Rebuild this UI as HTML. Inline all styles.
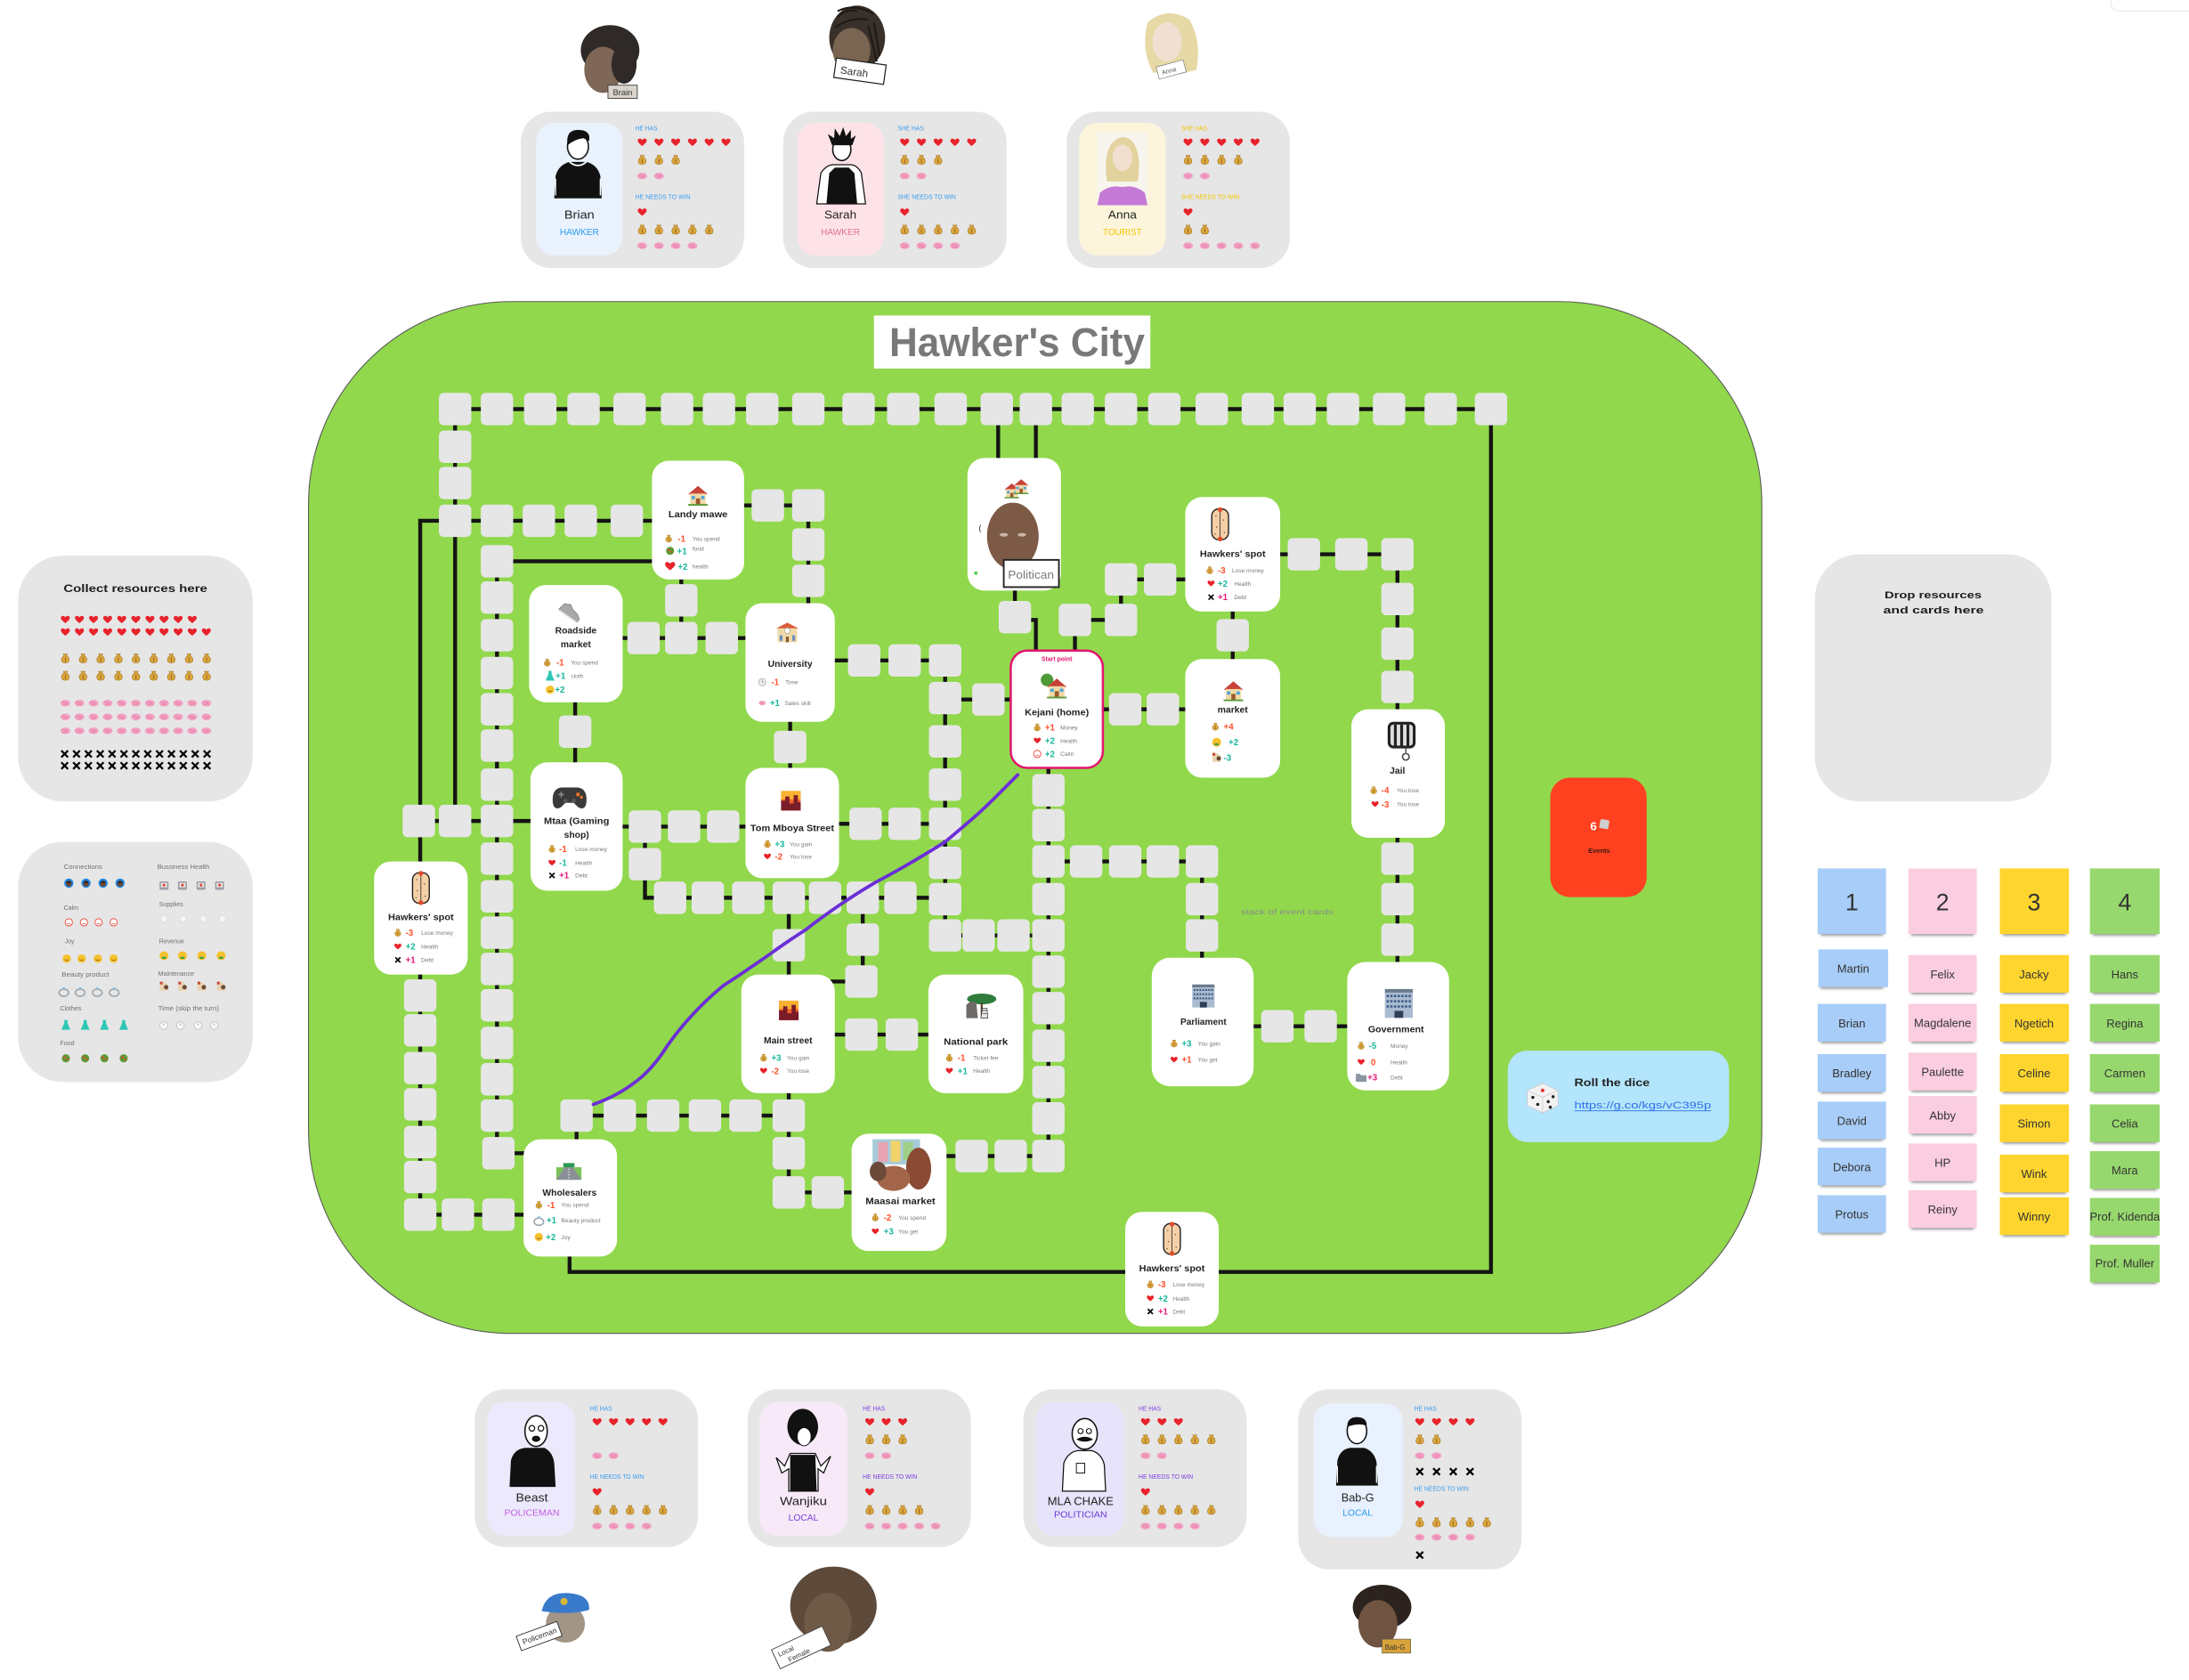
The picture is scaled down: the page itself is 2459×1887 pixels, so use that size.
<!DOCTYPE html>
<html><head><meta charset="utf-8"><title>Hawker's City</title>
<style>
html,body{margin:0;padding:0;background:#fff;width:2459px;height:1887px;overflow:hidden}
svg{display:block}
text{font-family:"Liberation Sans",Arial,sans-serif}
.ln{stroke:#141414;stroke-width:2.8;fill:none;stroke-linecap:square}
.cd{fill:#fff}
.ti{font-size:6.6px;font-weight:bold;fill:#222;text-anchor:middle}
.n{font-size:6.2px;font-weight:bold}
.r{fill:#ff4d2a}.g{fill:#16b79a}.p{fill:#e5177b}
.l{font-size:4.2px;fill:#7a7a7a}
.lb{font-size:4.5px;fill:#707070}
.hl{font-size:4.4px}
.nm{font-size:8.5px;fill:#222;text-anchor:middle}
.rl{font-size:6.4px;text-anchor:middle}
.sn{font-size:8.3px;fill:#333;text-anchor:middle}
.big{font-size:17px;fill:#333;text-anchor:middle}
</style></head>
<body>
<svg xmlns="http://www.w3.org/2000/svg" width="2459" height="1887" viewBox="0 0 1568 1203.26">
<defs>
<path id="h0" d="M0,4 C-2,2.2 -5,0.2 -5,-2 C-5,-4.6 -1.8,-5.2 0,-2.6 C1.8,-5.2 5,-4.6 5,-2 C5,0.2 2,2.2 0,4Z" fill="#e8232b"/>
<g id="m0"><path d="M-1.8,-4 L1.8,-4 L1,-2.3 C4.2,-1.2 4.6,4 0,4 C-4.6,4 -4.2,-1.2 -1,-2.3Z" fill="#dba73f" stroke="#a8741c" stroke-width=".5"/><path d="M0,-1 V3" stroke="#8a5d12" stroke-width=".7"/></g>
<g id="b0"><ellipse rx="5" ry="3.4" fill="#f3a0c2"/><path d="M-3.5,-.5 Q-2,-2 -.5,-.6 Q1,.8 2.5,-.8 M-2.5,1.5 Q0,.5 2.8,1.6" stroke="#e07aa5" stroke-width=".6" fill="none"/></g>
<path id="x0" d="M-3,-3 L3,3 M3,-3 L-3,3" stroke="#000" stroke-width="1.8"/>
<g id="H"><use href="#h0" transform="scale(.64)"/></g>
<g id="M"><use href="#m0" transform="scale(.8)"/></g>
<g id="B"><use href="#b0" transform="scale(.7)"/></g>
<g id="X"><use href="#x0" transform="scale(.8)"/></g>
<g id="h"><use href="#h0" transform="scale(.5)"/></g>
<g id="m"><use href="#m0" transform="scale(.62)"/></g>
<g id="x"><use href="#x0" transform="scale(.6)"/></g>
<g id="b"><use href="#b0" transform="scale(.5)"/></g>
<rect id="T" x="-11.6" y="-11.6" width="23.2" height="23.2" rx="3.6" fill="#e6e6e6"/>
<g id="house"><path d="M-7,-1 L0,-7 L7,-1Z" fill="#c8423a"/><rect x="-5.5" y="-1.5" width="11" height="8" fill="#f1d9a8"/><rect x="-1.5" y="2" width="3" height="4.5" fill="#9a5a2e"/><rect x="2.2" y="0.3" width="2.4" height="2.2" fill="#4aa3df"/><rect x="-4.6" y="0.3" width="2.4" height="2.2" fill="#4aa3df"/><rect x="-7" y="6" width="14" height="1.2" fill="#5a9a3a"/></g>
<g id="bur"><rect x="-6" y="-11" width="12" height="22" rx="5" fill="#f5cfa6" stroke="#222" stroke-width=".9"/><path d="M0,-10 V10" stroke="#222" stroke-width=".5"/><circle cx="0" cy="-10.5" r="1.7" fill="#e04a2a"/><circle cx="0" cy="10.5" r="1.7" fill="#e04a2a"/><g fill="#333"><circle cx="-3" cy="-6" r=".4"/><circle cx="2.5" cy="-3" r=".4"/><circle cx="-2.5" cy="2" r=".4"/><circle cx="3" cy="6" r=".4"/><circle cx="-3.5" cy="7" r=".4"/></g></g>
<g id="city"><rect x="-7" y="-7" width="14" height="14" fill="#f0642c"/><rect x="-7" y="-7" width="14" height="6" fill="#f9b233"/><path d="M-7,7 V0 H-4 V-3 H-1 V2 H2 V-4 H5 V1 H7 V7Z" fill="#7a1c2a"/></g>
<g id="bldg"><rect x="-8" y="-7" width="16" height="15" fill="#a9bbd0"/><rect x="-8" y="-8.5" width="16" height="2" fill="#6b7a8c"/><path d="M-7,-4.5H7M-7,-1.5H7M-7,1.5H7" stroke="#3c5a80" stroke-width="1.3" stroke-dasharray="1.3 .8"/><rect x="-2.5" y="4" width="5" height="4" fill="#2f3f55"/></g>
<g id="food"><circle r="2.9" fill="#5c9a33"/><circle cx="-1" cy="-.6" r=".8" fill="#e04a3a"/><circle cx="1.1" cy=".8" r=".7" fill="#e04a3a"/></g>
<path id="cloth" d="M-1,-3.5 L1,-3.5 L1.2,-1 L3.2,3.5 L-3.2,3.5 L-1.2,-1Z" fill="#2cc7b4"/>
<g id="smile"><circle r="3" fill="#f6c12e"/><path d="M-1.5,.6 Q0,2 1.5,.6" stroke="#8a5a12" stroke-width=".5" fill="none"/></g>
<g id="clock"><circle r="2.6" fill="#eee" stroke="#aaa" stroke-width=".5"/><path d="M0,-1.5 V0 H1" stroke="#777" stroke-width=".4" fill="none"/></g>
<g id="calm"><circle r="2.6" fill="#fff" stroke="#e84a3a" stroke-width=".6"/><path d="M-1.2,1.3 Q0,.3 1.2,1.3" stroke="#e84a3a" stroke-width=".5" fill="none"/></g>
<g id="ring"><ellipse cx="0" cy="1" rx="3.4" ry="2.6" fill="none" stroke="#9aa4ad" stroke-width="1"/><path d="M-1.2,-2.8 L1.2,-2.8 L0,-1.2Z" fill="#7fc8f0"/></g>
<g id="mface"><circle r="3.2" fill="#f6c12e"/><rect x="-1.5" y=".8" width="3" height="1.4" fill="#3aa14a"/></g>
<g id="maint"><path d="M-3,3 V-1 L0,-3.5 L3,-1 V3Z" fill="#e8d3b0"/><circle cx="1.5" cy="0.5" r="1.6" fill="#6b4a3a"/><rect x="-3" y="-3.5" width="2" height="2" fill="#c84a3a"/></g>
<g id="fold"><path d="M-3.8,-2.5 L-1,-2.5 L0,-1.5 L3.8,-1.5 L3.8,3.2 L-3.8,3.2Z" fill="#8a96a2"/></g>
<g id="conn"><circle r="3.3" fill="#1e88e5"/><circle cy=".3" r="2.1" fill="#6b4430"/><path d="M-2.1,-.3 Q0,-2.8 2.1,-.3" fill="#222"/></g>
<g id="bh"><rect x="-3.2" y="-3" width="6.4" height="6" rx=".8" fill="#9aa0a6"/><rect x="-2.2" y="-2" width="4.4" height="3.2" fill="#e8e8e8"/><path d="M0,-1.6 V.8 M-1.2,-.4 H1.2" stroke="#e53935" stroke-width=".8"/></g>
<circle id="sup" r="2.2" fill="#f6f6f6" stroke="#d8d8d8" stroke-width=".4"/>
<g id="tim"><circle r="2.8" fill="#f6f6f6" stroke="#bbb" stroke-width=".5"/><path d="M0,-1.6 V0" stroke="#888" stroke-width=".4"/></g>
<filter id="sh" x="-20%" y="-100%" width="140%" height="300%"><feGaussianBlur stdDeviation="1"/></filter>
</defs>

<!-- top-right fragment -->
<rect x="1512" y="-14" width="80" height="22" rx="6" fill="#fff" stroke="#ececec" stroke-width=".8"/>

<!-- ===== TOP PORTRAITS ===== -->
<g>
<ellipse cx="437" cy="36" rx="21" ry="18" fill="#2f2a27"/>
<ellipse cx="432" cy="50" rx="13.5" ry="16.5" fill="#7e6757"/>
<ellipse cx="447" cy="46" rx="9" ry="14" fill="#2f2a27"/>
<rect x="435.5" y="61" width="21" height="9.5" fill="#d9d3cc" stroke="#444" stroke-width=".6"/>
<text x="446" y="68.3" font-size="6" text-anchor="middle" fill="#333">Brain</text>
</g>
<g>
<ellipse cx="614" cy="27" rx="20" ry="23" fill="#3a302a"/>
<path d="M600,12 Q606,6 614,8 M598,20 Q608,12 622,14 M600,8 Q612,2 626,10 M626,16 L630,40 M622,18 L628,44" stroke="#1f1a17" stroke-width="1.4" fill="none"/>
<ellipse cx="610" cy="36" rx="13.5" ry="16" fill="#7a6452"/>
<g transform="rotate(8 616 51)"><rect x="598" y="44" width="36" height="14" fill="#fff" stroke="#222" stroke-width=".8"/><text x="602" y="54.5" font-size="7.5" fill="#333">Sarah</text></g>
</g>
<g>
<path d="M822,16 Q836,4 852,14 Q861,30 857,50 L846,53 L826,52 Q817,36 822,16Z" fill="#e6d9a6"/>
<ellipse cx="836" cy="30" rx="10.5" ry="14" fill="#f1e0d2"/>
<g transform="rotate(-15 840 50)"><rect x="829" y="45" width="20" height="9" fill="#fff" stroke="#888" stroke-width=".5"/><text x="832" y="51.5" font-size="4.5" fill="#555">Anna</text></g>
</g>

<!-- ===== TOP PLAYER CARDS ===== -->
<rect x="373" y="80" width="160" height="112" rx="22" fill="#e6e6e6"/>
<rect x="384" y="88" width="62" height="95" rx="13" fill="#e9f2fd"/>
<path d="M397,142 L398,126 Q400,118 408,116 L420,116 Q428,118 430,126 L431,142Z" fill="#111"/>
<path d="M398,128 L398,140 M430,128 L430,140" stroke="#fff" stroke-width=".8"/>
<path d="M408,116 Q414,121 420,116" stroke="#fff" stroke-width="1.2" fill="none"/>
<ellipse cx="414" cy="105" rx="7.5" ry="9" fill="#fff" stroke="#111" stroke-width="1"/>
<path d="M406.5,104 Q405,93 414,93 Q423.5,93 422,101 L418,99 Q412,99.5 406.5,104Z" fill="#111"/>
<text class="nm" x="415" y="156.5" textLength="21.6" lengthAdjust="spacingAndGlyphs">Brian</text>
<text class="rl" x="415" y="168.5" fill="#2a9af0" textLength="28" lengthAdjust="spacingAndGlyphs">HAWKER</text>
<text class="hl" x="455" y="93.5" fill="#3a9cf0" textLength="16" lengthAdjust="spacingAndGlyphs">HE HAS</text>
<text class="hl" x="455" y="142.5" fill="#3a9cf0" textLength="39.5" lengthAdjust="spacingAndGlyphs">HE NEEDS TO WIN</text>
<use href="#H" x="460" y="102"/><use href="#H" x="472" y="102"/><use href="#H" x="484" y="102"/><use href="#H" x="496" y="102"/><use href="#H" x="508" y="102"/><use href="#H" x="520" y="102"/>
<use href="#M" x="460" y="114.5"/><use href="#M" x="472" y="114.5"/><use href="#M" x="484" y="114.5"/>
<use href="#B" x="460" y="126"/><use href="#B" x="472" y="126"/>
<use href="#H" x="460" y="152"/>
<use href="#M" x="460" y="164.5"/><use href="#M" x="472" y="164.5"/><use href="#M" x="484" y="164.5"/><use href="#M" x="496" y="164.5"/><use href="#M" x="508" y="164.5"/>
<use href="#B" x="460" y="176"/><use href="#B" x="472" y="176"/><use href="#B" x="484" y="176"/><use href="#B" x="496" y="176"/>

<rect x="561" y="80" width="160" height="112" rx="22" fill="#e6e6e6"/>
<rect x="571" y="88" width="62" height="95" rx="13" fill="#fde3e7"/>
<path d="M585,146 L588,124 Q592,118 597,118 L609,118 Q614,118 617,124 L620,146Z" fill="#fff" stroke="#111" stroke-width=".8"/>
<path d="M592,146 L594,124 L598,120 L608,120 L612,124 L614,146Z" fill="#111"/>
<ellipse cx="603" cy="107" rx="6.5" ry="8" fill="#fff" stroke="#111" stroke-width="1"/>
<path d="M596,104 L593,96 L597.5,99 L598,92 L601.5,97.5 L604,91 L606,97.5 L609.5,93 L609.5,99.5 L613,97 L610.5,104Z" fill="#111"/>
<text class="nm" x="602" y="156.5" textLength="23" lengthAdjust="spacingAndGlyphs">Sarah</text>
<text class="rl" x="602" y="168.5" fill="#e06d9a" textLength="28" lengthAdjust="spacingAndGlyphs">HAWKER</text>
<text class="hl" x="643" y="93.5" fill="#3a9cf0" textLength="18.7" lengthAdjust="spacingAndGlyphs">SHE HAS</text>
<text class="hl" x="643" y="142.5" fill="#3a9cf0" textLength="41.7" lengthAdjust="spacingAndGlyphs">SHE NEEDS TO WIN</text>
<use href="#H" x="648" y="102"/><use href="#H" x="660" y="102"/><use href="#H" x="672" y="102"/><use href="#H" x="684" y="102"/><use href="#H" x="696" y="102"/>
<use href="#M" x="648" y="114.5"/><use href="#M" x="660" y="114.5"/><use href="#M" x="672" y="114.5"/>
<use href="#B" x="648" y="126"/><use href="#B" x="660" y="126"/>
<use href="#H" x="648" y="152"/>
<use href="#M" x="648" y="164.5"/><use href="#M" x="660" y="164.5"/><use href="#M" x="672" y="164.5"/><use href="#M" x="684" y="164.5"/><use href="#M" x="696" y="164.5"/>
<use href="#B" x="648" y="176"/><use href="#B" x="660" y="176"/><use href="#B" x="672" y="176"/><use href="#B" x="684" y="176"/>

<rect x="764" y="80" width="160" height="112" rx="22" fill="#e6e6e6"/>
<rect x="773" y="88" width="62" height="95" rx="13" fill="#fcf5dc"/>
<rect x="786" y="95" width="36" height="52" fill="#f8f5ef"/>
<path d="M793,130 Q790,110 797,102 Q804,95 811,101 Q818,110 815,130Z" fill="#e2d39e"/>
<ellipse cx="804" cy="113" rx="7" ry="9.5" fill="#f1dfd0"/>
<path d="M786,147 L788,138 Q795,132 804,134 Q813,132 820,138 L822,147Z" fill="#c57ad6"/>
<text class="nm" x="804" y="156.5" textLength="20.5" lengthAdjust="spacingAndGlyphs">Anna</text>
<text class="rl" x="804" y="168.5" fill="#f5c400" textLength="28" lengthAdjust="spacingAndGlyphs">TOURIST</text>
<text class="hl" x="846" y="93.5" fill="#f5c400" textLength="18.7" lengthAdjust="spacingAndGlyphs">SHE HAS</text>
<text class="hl" x="846" y="142.5" fill="#f5c400" textLength="41.7" lengthAdjust="spacingAndGlyphs">SHE NEEDS TO WIN</text>
<use href="#H" x="851" y="102"/><use href="#H" x="863" y="102"/><use href="#H" x="875" y="102"/><use href="#H" x="887" y="102"/><use href="#H" x="899" y="102"/>
<use href="#M" x="851" y="114.5"/><use href="#M" x="863" y="114.5"/><use href="#M" x="875" y="114.5"/><use href="#M" x="887" y="114.5"/>
<use href="#B" x="851" y="126"/><use href="#B" x="863" y="126"/>
<use href="#H" x="851" y="152"/>
<use href="#M" x="851" y="164.5"/><use href="#M" x="863" y="164.5"/>
<use href="#B" x="851" y="176"/><use href="#B" x="863" y="176"/><use href="#B" x="875" y="176"/><use href="#B" x="887" y="176"/><use href="#B" x="899" y="176"/>

<!-- ===== LEFT PANELS ===== -->
<rect x="13" y="398" width="168" height="176" rx="32" fill="#e6e6e6"/>
<text x="97" y="424" font-size="7.8" font-weight="bold" fill="#1c1c1c" text-anchor="middle" textLength="103" lengthAdjust="spacingAndGlyphs">Collect resources here</text>
<g>
<use href="#H" x="46.8" y="443.8"/><use href="#H" x="56.9" y="443.8"/><use href="#H" x="67" y="443.8"/><use href="#H" x="77.1" y="443.8"/><use href="#H" x="87.2" y="443.8"/><use href="#H" x="97.3" y="443.8"/><use href="#H" x="107.4" y="443.8"/><use href="#H" x="117.5" y="443.8"/><use href="#H" x="127.6" y="443.8"/><use href="#H" x="137.7" y="443.8"/>
<use href="#H" x="46.8" y="452.8"/><use href="#H" x="56.9" y="452.8"/><use href="#H" x="67" y="452.8"/><use href="#H" x="77.1" y="452.8"/><use href="#H" x="87.2" y="452.8"/><use href="#H" x="97.3" y="452.8"/><use href="#H" x="107.4" y="452.8"/><use href="#H" x="117.5" y="452.8"/><use href="#H" x="127.6" y="452.8"/><use href="#H" x="137.7" y="452.8"/><use href="#H" x="147.8" y="452.8"/>
<use href="#M" x="46.8" y="471.6"/><use href="#M" x="59.5" y="471.6"/><use href="#M" x="72.1" y="471.6"/><use href="#M" x="84.8" y="471.6"/><use href="#M" x="97.4" y="471.6"/><use href="#M" x="110.1" y="471.6"/><use href="#M" x="122.7" y="471.6"/><use href="#M" x="135.4" y="471.6"/><use href="#M" x="148" y="471.6"/>
<use href="#M" x="46.8" y="484"/><use href="#M" x="59.5" y="484"/><use href="#M" x="72.1" y="484"/><use href="#M" x="84.8" y="484"/><use href="#M" x="97.4" y="484"/><use href="#M" x="110.1" y="484"/><use href="#M" x="122.7" y="484"/><use href="#M" x="135.4" y="484"/><use href="#M" x="148" y="484"/>
<use href="#B" x="46.8" y="503.6"/><use href="#B" x="56.9" y="503.6"/><use href="#B" x="67" y="503.6"/><use href="#B" x="77.1" y="503.6"/><use href="#B" x="87.2" y="503.6"/><use href="#B" x="97.3" y="503.6"/><use href="#B" x="107.4" y="503.6"/><use href="#B" x="117.5" y="503.6"/><use href="#B" x="127.6" y="503.6"/><use href="#B" x="137.7" y="503.6"/><use href="#B" x="147.8" y="503.6"/>
<use href="#B" x="46.8" y="513.5"/><use href="#B" x="56.9" y="513.5"/><use href="#B" x="67" y="513.5"/><use href="#B" x="77.1" y="513.5"/><use href="#B" x="87.2" y="513.5"/><use href="#B" x="97.3" y="513.5"/><use href="#B" x="107.4" y="513.5"/><use href="#B" x="117.5" y="513.5"/><use href="#B" x="127.6" y="513.5"/><use href="#B" x="137.7" y="513.5"/><use href="#B" x="147.8" y="513.5"/>
<use href="#B" x="46.8" y="523.4"/><use href="#B" x="56.9" y="523.4"/><use href="#B" x="67" y="523.4"/><use href="#B" x="77.1" y="523.4"/><use href="#B" x="87.2" y="523.4"/><use href="#B" x="97.3" y="523.4"/><use href="#B" x="107.4" y="523.4"/><use href="#B" x="117.5" y="523.4"/><use href="#B" x="127.6" y="523.4"/><use href="#B" x="137.7" y="523.4"/><use href="#B" x="147.8" y="523.4"/>
<use href="#X" x="46.3" y="540"/><use href="#X" x="54.8" y="540"/><use href="#X" x="63.3" y="540"/><use href="#X" x="71.8" y="540"/><use href="#X" x="80.3" y="540"/><use href="#X" x="88.8" y="540"/><use href="#X" x="97.3" y="540"/><use href="#X" x="105.8" y="540"/><use href="#X" x="114.3" y="540"/><use href="#X" x="122.8" y="540"/><use href="#X" x="131.3" y="540"/><use href="#X" x="139.8" y="540"/><use href="#X" x="148.3" y="540"/>
<use href="#X" x="46.3" y="548.4"/><use href="#X" x="54.8" y="548.4"/><use href="#X" x="63.3" y="548.4"/><use href="#X" x="71.8" y="548.4"/><use href="#X" x="80.3" y="548.4"/><use href="#X" x="88.8" y="548.4"/><use href="#X" x="97.3" y="548.4"/><use href="#X" x="105.8" y="548.4"/><use href="#X" x="114.3" y="548.4"/><use href="#X" x="122.8" y="548.4"/><use href="#X" x="131.3" y="548.4"/><use href="#X" x="139.8" y="548.4"/><use href="#X" x="148.3" y="548.4"/>
</g>

<rect x="13" y="603" width="168" height="172" rx="32" fill="#e6e6e6"/>
<text class="lb" x="45.7" y="622.3" textLength="27.6" lengthAdjust="spacingAndGlyphs">Connections</text>
<use href="#conn" x="49.3" y="632.5"/><use href="#conn" x="61.6" y="632.5"/><use href="#conn" x="73.8" y="632.5"/><use href="#conn" x="86" y="632.5"/>
<text class="lb" x="45.7" y="651.7">Calm</text>
<use href="#calm" x="49.3" y="660.6"/><use href="#calm" x="60.1" y="660.6"/><use href="#calm" x="70.6" y="660.6"/><use href="#calm" x="81.4" y="660.6"/>
<text class="lb" x="46.3" y="675.5">Joy</text>
<use href="#smile" x="47.8" y="686.6"/><use href="#smile" x="58.5" y="686.6"/><use href="#smile" x="70.1" y="686.6"/><use href="#smile" x="81.4" y="686.6"/>
<text class="lb" x="44.2" y="699.5" textLength="34" lengthAdjust="spacingAndGlyphs">Beauty product</text>
<use href="#ring" x="45.7" y="710"/><use href="#ring" x="57.4" y="710"/><use href="#ring" x="69.7" y="710"/><use href="#ring" x="81.8" y="710"/>
<text class="lb" x="43" y="723.8">Clothes</text>
<use href="#cloth" x="47.2" y="734"/><use href="#cloth" x="61" y="734"/><use href="#cloth" x="74.8" y="734"/><use href="#cloth" x="88.6" y="734"/>
<text class="lb" x="43" y="748.5">Food</text>
<use href="#food" x="47.2" y="758"/><use href="#food" x="61" y="758"/><use href="#food" x="74.8" y="758"/><use href="#food" x="88.6" y="758"/>
<text class="lb" x="112.7" y="622.3" textLength="37.4" lengthAdjust="spacingAndGlyphs">Bussiness Health</text>
<use href="#bh" x="117.5" y="634.3"/><use href="#bh" x="130.7" y="634.3"/><use href="#bh" x="144" y="634.3"/><use href="#bh" x="157.3" y="634.3"/>
<text class="lb" x="114" y="649">Supplies</text>
<use href="#sup" x="117.3" y="658"/><use href="#sup" x="131.2" y="658"/><use href="#sup" x="145.6" y="658"/><use href="#sup" x="159.4" y="658"/>
<text class="lb" x="114" y="675.5">Revenue</text>
<use href="#mface" x="117.5" y="684.5"/><use href="#mface" x="130.7" y="684.5"/><use href="#mface" x="144.5" y="684.5"/><use href="#mface" x="158.4" y="684.5"/>
<text class="lb" x="113.3" y="699">Maintenance</text>
<use href="#maint" x="117.5" y="706.6"/><use href="#maint" x="130.7" y="706.6"/><use href="#maint" x="144.5" y="706.6"/><use href="#maint" x="158.4" y="706.6"/>
<text class="lb" x="113.3" y="723.8" textLength="43.6" lengthAdjust="spacingAndGlyphs">Time (skip the turn)</text>
<use href="#tim" x="117.3" y="734.5"/><use href="#tim" x="129.2" y="734.5"/><use href="#tim" x="141.8" y="734.5"/><use href="#tim" x="153.5" y="734.5"/>

<!-- ===== BOARD ===== -->
<rect x="221" y="216" width="1041" height="739" rx="145" fill="#91d84c" stroke="#5a5a5a" stroke-width=".7"/>
<rect x="626" y="226" width="198" height="38" fill="#fff"/>
<text x="728.5" y="255" font-size="29" font-weight="bold" fill="#797979" text-anchor="middle" textLength="183" lengthAdjust="spacingAndGlyphs">Hawker's City</text>
<text x="889" y="655" font-size="5.3" fill="#8a8a8a" textLength="66" lengthAdjust="spacingAndGlyphs">stack of event cards</text>

<!-- connectors -->
<path class="ln" d="M326,293 H1068 V911 H408 V895
M326,293 V588
M301,373 H467
M301,373 V870 H380
M301,588 H380
M356,402 H467
M356,402 V826 H378
M533,362 H579 V435
M488,412 V457
M446,457 H536
M412,500 V548
M566,515 V552
M598,473 H677 V670 H751
M677,501 H726
M446,592 H536
M600,590 H677
M462,592 V643 H677
M565,643 V700
M618,643 V703 H596
M596,741 H667
M565,781 V854 H612
M413,799 H565
M413,799 V818
M751,548 V828 H676
M751,617 H861 V688
M896,735 H967
M715,293 V330
M742,293 V330
M727,420 V444 H742 V468
M770,444 V468
M770,444 H803 V415 H851
M883,436 V474
M788,508 H851
M915,397 H1001 V510
M1001,598 V691"/>

<!-- tiles -->
<g>
<use href="#T" x="326" y="293"/><use href="#T" x="356" y="293"/><use href="#T" x="387" y="293"/><use href="#T" x="418" y="293"/><use href="#T" x="451" y="293"/><use href="#T" x="485" y="293"/><use href="#T" x="515" y="293"/><use href="#T" x="546" y="293"/><use href="#T" x="579" y="293"/><use href="#T" x="615" y="293"/><use href="#T" x="647" y="293"/><use href="#T" x="681" y="293"/><use href="#T" x="714" y="293"/><use href="#T" x="742" y="293"/><use href="#T" x="772" y="293"/><use href="#T" x="803" y="293"/><use href="#T" x="834" y="293"/><use href="#T" x="868" y="293"/><use href="#T" x="901" y="293"/><use href="#T" x="931" y="293"/><use href="#T" x="962" y="293"/><use href="#T" x="995" y="293"/><use href="#T" x="1032" y="293"/><use href="#T" x="1068" y="293"/>
<use href="#T" x="326" y="320"/><use href="#T" x="326" y="346"/><use href="#T" x="326" y="373"/>
<use href="#T" x="356" y="373"/><use href="#T" x="386" y="373"/><use href="#T" x="416" y="373"/><use href="#T" x="449" y="373"/>
<use href="#T" x="300" y="588"/><use href="#T" x="326" y="588"/>
<use href="#T" x="356" y="402"/><use href="#T" x="356" y="428"/><use href="#T" x="356" y="455"/><use href="#T" x="356" y="482"/><use href="#T" x="356" y="508"/><use href="#T" x="356" y="534"/><use href="#T" x="356" y="562"/><use href="#T" x="356" y="588"/><use href="#T" x="356" y="615"/><use href="#T" x="356" y="642"/><use href="#T" x="356" y="668"/><use href="#T" x="356" y="694"/><use href="#T" x="356" y="720"/><use href="#T" x="356" y="747"/><use href="#T" x="356" y="773"/><use href="#T" x="356" y="799"/><use href="#T" x="357" y="826"/>
<use href="#T" x="301" y="713"/><use href="#T" x="301" y="738"/><use href="#T" x="301" y="765"/><use href="#T" x="301" y="791"/><use href="#T" x="301" y="818"/><use href="#T" x="301" y="843"/><use href="#T" x="301" y="870"/>
<use href="#T" x="328" y="870"/><use href="#T" x="357" y="870"/>
<use href="#T" x="550" y="362"/><use href="#T" x="579" y="362"/><use href="#T" x="579" y="390"/><use href="#T" x="579" y="416"/>
<use href="#T" x="488" y="430"/><use href="#T" x="461" y="457"/><use href="#T" x="488" y="457"/><use href="#T" x="517" y="457"/>
<use href="#T" x="412" y="524"/>
<use href="#T" x="566" y="535"/>
<use href="#T" x="619" y="473"/><use href="#T" x="648" y="473"/><use href="#T" x="677" y="473"/>
<use href="#T" x="677" y="500"/><use href="#T" x="677" y="531"/><use href="#T" x="677" y="562"/><use href="#T" x="677" y="590"/><use href="#T" x="677" y="618"/><use href="#T" x="677" y="644"/><use href="#T" x="677" y="670"/>
<use href="#T" x="708" y="501"/>
<use href="#T" x="462" y="592"/><use href="#T" x="490" y="592"/><use href="#T" x="518" y="592"/>
<use href="#T" x="462" y="619"/>
<use href="#T" x="480" y="643"/><use href="#T" x="507" y="643"/><use href="#T" x="536" y="643"/><use href="#T" x="565" y="643"/><use href="#T" x="591" y="643"/><use href="#T" x="618" y="643"/><use href="#T" x="645" y="643"/>
<use href="#T" x="565" y="677"/>
<use href="#T" x="618" y="673"/><use href="#T" x="617" y="703"/>
<use href="#T" x="617" y="741"/><use href="#T" x="646" y="741"/>
<use href="#T" x="620" y="590"/><use href="#T" x="648" y="590"/>
<use href="#T" x="701" y="670"/><use href="#T" x="726" y="670"/>
<use href="#T" x="751" y="566"/><use href="#T" x="751" y="591"/><use href="#T" x="751" y="617"/><use href="#T" x="751" y="644"/><use href="#T" x="751" y="670"/><use href="#T" x="751" y="696"/><use href="#T" x="751" y="722"/><use href="#T" x="751" y="749"/><use href="#T" x="751" y="775"/><use href="#T" x="751" y="801"/><use href="#T" x="751" y="828"/>
<use href="#T" x="778" y="617"/><use href="#T" x="806" y="617"/><use href="#T" x="833" y="617"/><use href="#T" x="861" y="617"/>
<use href="#T" x="861" y="644"/><use href="#T" x="861" y="670"/>
<use href="#T" x="696" y="828"/><use href="#T" x="724" y="828"/>
<use href="#T" x="413" y="799"/><use href="#T" x="444" y="799"/><use href="#T" x="475" y="799"/><use href="#T" x="505" y="799"/><use href="#T" x="534" y="799"/><use href="#T" x="565" y="799"/>
<use href="#T" x="565" y="826"/><use href="#T" x="565" y="854"/><use href="#T" x="593" y="854"/>
<use href="#T" x="727" y="442"/><use href="#T" x="770" y="444"/><use href="#T" x="803" y="444"/><use href="#T" x="803" y="415"/><use href="#T" x="831" y="415"/>
<use href="#T" x="883" y="455"/>
<use href="#T" x="934" y="397"/><use href="#T" x="968" y="397"/><use href="#T" x="1001" y="397"/>
<use href="#T" x="1001" y="429"/><use href="#T" x="1001" y="461"/><use href="#T" x="1001" y="492"/>
<use href="#T" x="1001" y="615"/><use href="#T" x="1001" y="644"/><use href="#T" x="1001" y="673"/>
<use href="#T" x="915" y="735"/><use href="#T" x="946" y="735"/>
<use href="#T" x="806" y="508"/><use href="#T" x="833" y="508"/>
</g>

<!-- purple route -->
<path d="M729,555 Q722,562 712,572 T690,592 L677,603 Q650,620 627,632 Q600,648 577,666 Q563,675 552,683 Q532,697 518,706 Q495,725 478,749 Q470,762 460,771 Q445,784 425,791" stroke="#6b2fd6" stroke-width="2.4" fill="none" stroke-linecap="round"/>

<!-- ===== BOARD CARDS ===== -->
<!-- Landy mawe -->
<rect class="cd" x="467" y="330" width="66" height="85" rx="12"/>
<use href="#house" x="500" y="355"/>
<text class="ti" x="500" y="370.5" textLength="42.4" lengthAdjust="spacingAndGlyphs">Landy mawe</text>
<use href="#m" x="479" y="385.8"/><text class="n r" x="485.5" y="388">-1</text><text class="l" x="496" y="387.4">You spend</text>
<use href="#food" x="480" y="394.5"/><text class="n g" x="485" y="397">+1</text><text class="l" x="496" y="394.5">food</text>
<use href="#h0" transform="translate(480 405.6) scale(.72)"/><text class="n g" x="485.5" y="408">+2</text><text class="l" x="496" y="407.2">health</text>

<!-- Roadside market -->
<rect class="cd" x="379" y="419" width="67" height="84" rx="12"/>
<g transform="translate(409 438) rotate(35)"><path d="M-8,3 L-7,-2 L-3,-4 L0,-2 L5,-1 L8,1 L8,4 L-8,4Z" fill="#a9a9a9" stroke="#7d7d7d" stroke-width=".5"/><path d="M-8,4 H8" stroke="#ddd" stroke-width="1"/></g>
<text class="ti" x="412.5" y="453.7">Roadside</text>
<text class="ti" x="412.5" y="463.5">market</text>
<use href="#m" x="392" y="474.6"/><text class="n r" x="398.5" y="476.8">-1</text><text class="l" x="408.8" y="476.1">You spend</text>
<use href="#cloth" x="394" y="484"/><text class="n g" x="398" y="486.2">+1</text><text class="l" x="409" y="485.5">cloth</text>
<use href="#smile" x="394" y="494"/><text class="n g" x="397.5" y="496.2">+2</text>

<!-- University -->
<rect class="cd" x="534" y="432" width="64" height="85" rx="12"/>
<g transform="translate(564 454)"><rect x="-7" y="-4" width="14" height="10" fill="#f0d9a8"/><path d="M-8,-4 L0,-8 L8,-4Z" fill="#d9603a"/><circle cy="-2.3" r="2" fill="#fff" stroke="#999" stroke-width=".4"/><rect x="-5.5" y="1" width="2" height="4" fill="#6a8fbf"/><rect x="3.5" y="1" width="2" height="4" fill="#6a8fbf"/><rect x="-1" y="2" width="2" height="4" fill="#8a5a2e"/></g>
<text class="ti" x="566" y="477.6">University</text>
<use href="#clock" x="546" y="488.6"/><text class="n r" x="552.5" y="490.8">-1</text><text class="l" x="562.5" y="490.1">Time</text>
<use href="#b" x="546" y="503.5"/><text class="n g" x="551.5" y="505.7">+1</text><text class="l" x="562" y="505">Sales skill</text>

<!-- Politician -->
<rect class="cd" x="693" y="328" width="67" height="95" rx="12"/>
<g transform="translate(727 350) scale(.75)"><use href="#house" x="-3" y="2"/><use href="#house" x="6" y="-2"/></g>
<text x="701" y="380" font-size="6" fill="#333">(</text>
<circle cx="699" cy="410.5" r="1.2" fill="#4cd040"/>
<ellipse cx="725.5" cy="384" rx="18.5" ry="24" fill="#7c5a45"/>
<ellipse cx="719" cy="383" rx="3" ry="1.3" fill="#c9b6a4"/><ellipse cx="732" cy="383" rx="3" ry="1.3" fill="#c9b6a4"/>
<rect x="719" y="401" width="39.5" height="19.5" fill="#fff" stroke="#222" stroke-width="1.2"/>
<text x="722" y="414.5" font-size="8" fill="#7a7a7a" textLength="33" lengthAdjust="spacingAndGlyphs">Politican</text>

<!-- Hawkers' spot TR -->
<rect class="cd" x="849" y="356" width="68" height="82" rx="12"/>
<use href="#bur" x="874" y="375.5"/>
<text class="ti" x="883" y="399" textLength="47" lengthAdjust="spacingAndGlyphs">Hawkers' spot</text>
<use href="#m" x="866.6" y="408.4"/><text class="n r" x="872.3" y="410.6">-3</text><text class="l" x="882.5" y="409.9">Lose money</text>
<use href="#h" x="867.5" y="418"/><text class="n g" x="872.3" y="420.2">+2</text><text class="l" x="884" y="419.5">Health</text>
<use href="#x" x="867.5" y="427.7"/><text class="n p" x="872.3" y="429.9">+1</text><text class="l" x="884" y="429.2">Debt</text>

<!-- Kejani -->
<rect x="724" y="466" width="66" height="84" rx="12" fill="#fff" stroke="#e3166f" stroke-width="1.6"/>
<text x="757" y="473.4" font-size="4.4" font-weight="bold" fill="#e3166f" text-anchor="middle">Start point</text>
<circle cx="750" cy="487" r="4.5" fill="#4f9a36"/>
<use href="#house" x="757" y="493"/>
<text class="ti" x="757" y="512.3" textLength="46" lengthAdjust="spacingAndGlyphs">Kejani (home)</text>
<use href="#m" x="743" y="521"/><text class="n r" x="748.5" y="523.2">+1</text><text class="l" x="759.5" y="522.5">Money</text>
<use href="#h" x="743" y="530.5"/><text class="n g" x="748.5" y="532.7">+2</text><text class="l" x="759.5" y="532">Health</text>
<use href="#calm" x="743" y="540"/><text class="n g" x="748.5" y="542.2">+2</text><text class="l" x="759.5" y="541.5">Calm</text>

<!-- market -->
<rect class="cd" x="849" y="472" width="68" height="85" rx="12"/>
<use href="#house" x="883.5" y="495"/>
<text class="ti" x="883" y="510.5">market</text>
<use href="#m" x="870.6" y="520.5"/><text class="n r" x="876.5" y="522.7">+4</text>
<use href="#mface" x="871.5" y="531.6"/><text class="n g" x="880" y="533.8">+2</text>
<use href="#maint" x="871.5" y="542.7"/><text class="n g" x="876.5" y="544.9">-3</text>

<!-- Jail -->
<rect class="cd" x="968" y="508" width="67" height="92" rx="12"/>
<g transform="translate(1004 530)"><rect x="-9" y="-12" width="18" height="17" rx="3" fill="#ddd" stroke="#222" stroke-width="2"/><path d="M-4.5,-11 V4 M0,-11 V4 M4.5,-11 V4" stroke="#222" stroke-width="2"/><path d="M3,5 V9" stroke="#333" stroke-width=".8"/><circle cx="3" cy="12" r="2.4" fill="none" stroke="#444" stroke-width="1"/></g>
<text class="ti" x="1001" y="554">Jail</text>
<use href="#m" x="984" y="566"/><text class="n r" x="989.5" y="568.2">-4</text><text class="l" x="1000.5" y="567.5">You lose</text>
<use href="#h" x="985" y="576"/><text class="n r" x="989.5" y="578.2">-3</text><text class="l" x="1000.5" y="577.5">You lose</text>

<!-- Hawkers' spot L -->
<rect class="cd" x="268" y="617" width="67" height="81" rx="12"/>
<use href="#bur" x="301.5" y="636"/>
<text class="ti" x="301.5" y="659" textLength="47" lengthAdjust="spacingAndGlyphs">Hawkers' spot</text>
<use href="#m" x="285" y="668"/><text class="n r" x="290.5" y="670.2">-3</text><text class="l" x="301.7" y="669.5">Lose money</text>
<use href="#h" x="285" y="678"/><text class="n g" x="290.5" y="680.2">+2</text><text class="l" x="301.7" y="679.5">Health</text>
<use href="#x" x="285" y="687.5"/><text class="n p" x="290.5" y="689.7">+1</text><text class="l" x="301.7" y="689">Debt</text>

<!-- Mtaa -->
<rect class="cd" x="380" y="546" width="66" height="92" rx="12"/>
<g transform="translate(408 572)"><path d="M-12,3 Q-13,-7 -6,-8 L6,-8 Q13,-7 12,3 Q11,9 6,6 L3,3 L-3,3 L-6,6 Q-11,9 -12,3Z" fill="#3a3a3a"/><circle cx="6" cy="-3" r="1.4" fill="#e8732a"/><circle cx="8.5" cy="-1" r="1.1" fill="#e8732a"/><path d="M-8,-3 H-4 M-6,-5 V-1" stroke="#888" stroke-width="1.1"/><circle cx="-3" cy="1.5" r="1.6" fill="#555"/><circle cx="3" cy="1.5" r="1.6" fill="#555"/></g>
<text class="ti" x="413" y="590.3" textLength="46.8" lengthAdjust="spacingAndGlyphs">Mtaa (Gaming</text>
<text class="ti" x="413" y="600">shop)</text>
<use href="#m" x="395.4" y="608"/><text class="n r" x="400.5" y="610.2">-1</text><text class="l" x="412" y="609.5">Lose money</text>
<use href="#h" x="395.4" y="618"/><text class="n g" x="400.5" y="620.2">-1</text><text class="l" x="412" y="619.5">Health</text>
<use href="#x" x="395.4" y="627"/><text class="n p" x="400.5" y="629.2">+1</text><text class="l" x="412" y="628.5">Debt</text>

<!-- Tom Mboya -->
<rect class="cd" x="534" y="550" width="67" height="79" rx="12"/>
<use href="#city" x="566.5" y="573.5"/>
<text class="ti" x="567.5" y="595.3" textLength="60" lengthAdjust="spacingAndGlyphs">Tom Mboya Street</text>
<use href="#m" x="549.7" y="604.5"/><text class="n g" x="555" y="606.7">+3</text><text class="l" x="565.6" y="606">You gain</text>
<use href="#h" x="549.7" y="613.5"/><text class="n r" x="555" y="615.7">-2</text><text class="l" x="565.6" y="615">You lose</text>

<!-- Main street -->
<rect class="cd" x="531" y="698" width="67" height="85" rx="12"/>
<use href="#city" x="565" y="723.7"/>
<text class="ti" x="564.5" y="747.3">Main street</text>
<use href="#m" x="547" y="757.6"/><text class="n g" x="552.5" y="759.8">+3</text><text class="l" x="563.7" y="759.1">You gain</text>
<use href="#h" x="547" y="767"/><text class="n r" x="552.5" y="769.2">-2</text><text class="l" x="563.7" y="768.5">You lose</text>

<!-- National park -->
<rect class="cd" x="665" y="698" width="68" height="85" rx="12"/>
<g transform="translate(701 721) scale(.55)"><ellipse cx="4" cy="-10" rx="19" ry="7" fill="#2f7d3c"/><path d="M4,-5 V13" stroke="#5a3b22" stroke-width="2.5"/><path d="M-16,15 L-16,-2 Q-11,-9 -3,-5 L-1,15Z" fill="#6d6a68"/><path d="M3,15 L5,2 L11,2 L12,15Z" fill="#e6e6e6" stroke="#333" stroke-width=".8"/><path d="M5,5 H11 M5,9 H12" stroke="#333" stroke-width=".8"/></g>
<text class="ti" x="699" y="748.3" textLength="46" lengthAdjust="spacingAndGlyphs">National park</text>
<use href="#m" x="680" y="757.7"/><text class="n r" x="686" y="759.9">-1</text><text class="l" x="697" y="759.2">Ticket fee</text>
<use href="#h" x="680" y="767"/><text class="n g" x="686" y="769.2">+1</text><text class="l" x="697" y="768.5">Health</text>

<!-- Parliament -->
<rect class="cd" x="825" y="686" width="73" height="92" rx="13"/>
<use href="#bldg" x="862" y="713.6"/>
<text class="ti" x="862" y="733.8" textLength="33" lengthAdjust="spacingAndGlyphs">Parliament</text>
<use href="#m" x="841" y="747.4"/><text class="n g" x="846.5" y="749.6">+3</text><text class="l" x="858" y="748.9">You gain</text>
<use href="#h" x="841" y="759"/><text class="n r" x="846.5" y="761.2">+1</text><text class="l" x="858" y="760.5">You get</text>

<!-- Government -->
<rect class="cd" x="965" y="689" width="73" height="92" rx="13"/>
<g transform="translate(1002 719) scale(1.25)"><use href="#bldg"/></g>
<text class="ti" x="1000" y="739.3" textLength="40" lengthAdjust="spacingAndGlyphs">Government</text>
<use href="#m" x="975" y="749"/><text class="n g" x="980.5" y="751.2">-5</text><text class="l" x="996" y="750.5">Money</text>
<use href="#h" x="975" y="760.7"/><text class="n r" x="982" y="762.9">0</text><text class="l" x="996" y="762.2">Health</text>
<use href="#fold" x="975" y="771.6"/><text class="n p" x="979.5" y="773.8">+3</text><text class="l" x="996" y="773.1">Debt</text>

<!-- Wholesalers -->
<rect class="cd" x="375" y="816" width="67" height="84" rx="12"/>
<g transform="translate(407.5 840)"><rect x="-9" y="-4" width="18" height="9" fill="#7cc35a"/><path d="M-3,-4 L3,-4 L9,5 L-9,5Z" fill="#8a8f96"/><path d="M0,-3 V4" stroke="#fff" stroke-width=".6" stroke-dasharray="1 1"/><rect x="-4" y="-7" width="8" height="3" fill="#2e9a55"/></g>
<text class="ti" x="408" y="856.3">Wholesalers</text>
<use href="#m" x="386" y="863"/><text class="n r" x="392" y="865.2">-1</text><text class="l" x="402" y="864.5">You spend</text>
<use href="#ring" x="386" y="874"/><text class="n g" x="391.5" y="876.2">+1</text><text class="l" x="402" y="875.5">Beauty product</text>
<use href="#smile" x="386" y="886"/><text class="n g" x="391" y="888.2">+2</text><text class="l" x="402" y="887.5">Joy</text>

<!-- Maasai market -->
<rect class="cd" x="610" y="812" width="68" height="84" rx="12"/>
<g transform="translate(645 835)"><rect x="-20" y="-19" width="34" height="18" fill="#a7cbd9"/><rect x="-16" y="-17" width="7" height="14" fill="#e8a2b2"/><rect x="-7" y="-18" width="7" height="15" fill="#f2d26b"/><rect x="2" y="-17" width="7" height="13" fill="#9fd08a"/><ellipse cx="13" cy="2" rx="9" ry="15" fill="#8b4a34"/><ellipse cx="-5" cy="9" rx="12" ry="9" fill="#a4664a"/><ellipse cx="-16" cy="4" rx="6" ry="7" fill="#6b4a3a"/></g>
<text class="ti" x="645" y="862.3" textLength="50" lengthAdjust="spacingAndGlyphs">Maasai market</text>
<use href="#m" x="627" y="872"/><text class="n r" x="633" y="874.2">-2</text><text class="l" x="643.5" y="873.5">You spend</text>
<use href="#h" x="627" y="882"/><text class="n g" x="633" y="884.2">+3</text><text class="l" x="643.5" y="883.5">You get</text>

<!-- Hawkers' spot B -->
<rect class="cd" x="806" y="868" width="67" height="82" rx="12"/>
<use href="#bur" x="839.5" y="887.3"/>
<text class="ti" x="839.5" y="910.6" textLength="47" lengthAdjust="spacingAndGlyphs">Hawkers' spot</text>
<use href="#m" x="824" y="920"/><text class="n r" x="829.5" y="922.2">-3</text><text class="l" x="840" y="921.5">Lose money</text>
<use href="#h" x="824" y="930"/><text class="n g" x="829.5" y="932.2">+2</text><text class="l" x="840" y="931.5">Health</text>
<use href="#x" x="824" y="939.3"/><text class="n p" x="829.5" y="941.5">+1</text><text class="l" x="840" y="940.8">Debt</text>

<!-- ===== EVENTS / ROLL / DROP ===== -->
<rect x="1110.5" y="557" width="69" height="85.5" rx="14" fill="#ff4120"/>
<text x="1141.5" y="594.5" font-size="8.5" font-weight="bold" fill="#fff" text-anchor="middle">6</text>
<rect x="1146" y="587" width="6.5" height="6.5" rx="1.2" fill="#cfcfcf" transform="rotate(10 1149 590)"/>
<text x="1145.5" y="611" font-size="4.8" font-weight="bold" fill="#3a1a10" text-anchor="middle">Events</text>

<rect x="1080" y="752.5" width="158.5" height="65.5" rx="14" fill="#b3e5fc"/>
<g transform="translate(1105 786)"><path d="M-11,-5 L0,-10 L11,-5 L11,6 L0,11 L-11,6Z" fill="#f2f2f2" stroke="#c8c8c8" stroke-width=".5"/><path d="M-11,-5 L0,0 L11,-5 M0,0 V11" stroke="#ccc" stroke-width=".5" fill="none"/><circle cx="0" cy="-5" r="1.3" fill="#e53935"/><circle cx="-7" cy="0" r="1.1" fill="#222"/><circle cx="-3.5" cy="5" r="1.1" fill="#222"/><circle cx="4" cy="3" r="1.1" fill="#222"/><circle cx="7.5" cy="-.5" r="1.1" fill="#222"/><circle cx="5.5" cy="7" r="1.1" fill="#222"/></g>
<text x="1127.7" y="778" font-size="7.6" font-weight="bold" fill="#222" textLength="54" lengthAdjust="spacingAndGlyphs">Roll the dice</text>
<text x="1127.7" y="794" font-size="6.8" fill="#2f6fe8" textLength="98" lengthAdjust="spacingAndGlyphs">https://g.co/kgs/vC395p</text>
<path d="M1127.7,795.6 H1225.6" stroke="#2f6fe8" stroke-width=".5"/>

<rect x="1300" y="397" width="169.5" height="177" rx="32" fill="#e6e6e6"/>
<text x="1384.7" y="428.5" font-size="7.2" font-weight="bold" fill="#1c1c1c" text-anchor="middle" textLength="69.5" lengthAdjust="spacingAndGlyphs">Drop resources</text>
<text x="1385" y="439.4" font-size="7.2" font-weight="bold" fill="#1c1c1c" text-anchor="middle" textLength="72" lengthAdjust="spacingAndGlyphs">and cards  here</text>

<!-- ===== STICKY NOTES ===== -->
<g fill="#000" opacity=".45" filter="url(#sh)">
<rect x="1304" y="666" width="45" height="4"/><rect x="1369" y="666" width="45" height="4"/><rect x="1434.5" y="666" width="45.5" height="4"/><rect x="1499" y="666" width="46" height="4"/>
<rect x="1304" y="704.5" width="45" height="3.5"/><rect x="1304" y="743.5" width="45" height="3.5"/><rect x="1304" y="779.5" width="45" height="3.5"/><rect x="1304" y="813.5" width="45" height="3.5"/><rect x="1304" y="846.5" width="45" height="3.5"/><rect x="1304" y="880.5" width="45" height="3.5"/>
<rect x="1369" y="708.5" width="45" height="3.5"/><rect x="1369" y="743.5" width="45" height="3.5"/><rect x="1369" y="778.5" width="45" height="3.5"/><rect x="1369" y="809.5" width="45" height="3.5"/><rect x="1369" y="843.5" width="45" height="3.5"/><rect x="1369" y="877" width="45" height="3.5"/>
<rect x="1434.5" y="708.5" width="45.5" height="3.5"/><rect x="1434.5" y="743.5" width="45.5" height="3.5"/><rect x="1434.5" y="779.5" width="45.5" height="3.5"/><rect x="1434.5" y="815.5" width="45.5" height="3.5"/><rect x="1434.5" y="851.5" width="45.5" height="3.5"/><rect x="1434.5" y="882" width="45.5" height="3.5"/>
<rect x="1499" y="708.5" width="46" height="3.5"/><rect x="1499" y="743.5" width="46" height="3.5"/><rect x="1499" y="779.5" width="46" height="3.5"/><rect x="1499" y="815.5" width="46" height="3.5"/><rect x="1499" y="849" width="46" height="3.5"/><rect x="1499" y="882.5" width="46" height="3.5"/><rect x="1499" y="916" width="46" height="3.5"/>
</g>
<g fill="#a8cdf8">
<rect x="1302" y="622" width="49" height="47"/>
<rect x="1302.5" y="680" width="50" height="27"/><rect x="1302" y="719" width="49" height="27"/><rect x="1302" y="755" width="49" height="27"/><rect x="1302" y="789" width="49" height="27"/><rect x="1302" y="822" width="49" height="27"/><rect x="1302" y="856" width="49" height="27"/>
</g>
<g fill="#fbcde1">
<rect x="1367" y="622" width="49" height="47"/>
<rect x="1367" y="684" width="49" height="27"/><rect x="1367" y="719" width="49" height="27"/><rect x="1367" y="754" width="49" height="27"/><rect x="1367" y="785" width="49" height="27"/><rect x="1367" y="819" width="49" height="27"/><rect x="1367" y="852.5" width="49" height="27"/>
</g>
<g fill="#fed52e">
<rect x="1432.5" y="622" width="49.5" height="47"/>
<rect x="1432.5" y="684" width="49.5" height="27"/><rect x="1432.5" y="719" width="49.5" height="27"/><rect x="1432.5" y="755" width="49.5" height="27"/><rect x="1432.5" y="791" width="49.5" height="27"/><rect x="1432.5" y="827" width="49.5" height="27"/><rect x="1432.5" y="857.5" width="49.5" height="27"/>
</g>
<g fill="#97d86e">
<rect x="1497" y="622" width="50" height="47"/>
<rect x="1497" y="684" width="50" height="27"/><rect x="1497" y="719" width="50" height="27"/><rect x="1497" y="755" width="50" height="27"/><rect x="1497" y="791" width="50" height="27"/><rect x="1497" y="824.5" width="50" height="27"/><rect x="1497" y="858" width="50" height="27"/><rect x="1497" y="891.5" width="50" height="27"/>
</g>
<text class="big" x="1326.5" y="652">1</text><text class="big" x="1391.5" y="652">2</text><text class="big" x="1457" y="652">3</text><text class="big" x="1522" y="652">4</text>
<text class="sn" x="1327.5" y="696.7">Martin</text><text class="sn" x="1326.5" y="735.7">Brian</text><text class="sn" x="1326.5" y="771.7">Bradley</text><text class="sn" x="1326.5" y="805.7">David</text><text class="sn" x="1326.5" y="838.7">Debora</text><text class="sn" x="1326.5" y="872.7">Protus</text>
<text class="sn" x="1391.5" y="700.7">Felix</text><text class="sn" x="1391.5" y="735.5" font-size="7.4">Magdalene</text><text class="sn" x="1391.5" y="770.7">Paulette</text><text class="sn" x="1391.5" y="801.7">Abby</text><text class="sn" x="1391.5" y="835.7">HP</text><text class="sn" x="1391.5" y="869.2">Reiny</text>
<text class="sn" x="1457" y="700.7">Jacky</text><text class="sn" x="1457" y="735.7">Ngetich</text><text class="sn" x="1457" y="771.7">Celine</text><text class="sn" x="1457" y="807.7">Simon</text><text class="sn" x="1457" y="843.7">Wink</text><text class="sn" x="1457" y="874.2">Winny</text>
<text class="sn" x="1522" y="700.7">Hans</text><text class="sn" x="1522" y="735.7">Regina</text><text class="sn" x="1522" y="771.7">Carmen</text><text class="sn" x="1522" y="807.7">Celia</text><text class="sn" x="1522" y="841.2">Mara</text><text class="sn" x="1522" y="874.3" font-size="6.4">Prof. Kidenda</text><text class="sn" x="1522" y="907.8" font-size="6.9">Prof. Muller</text>

<!-- ===== BOTTOM PLAYER CARDS ===== -->
<!-- Beast -->
<rect x="340" y="995" width="160" height="113" rx="22" fill="#e6e6e6"/>
<rect x="349" y="1004" width="63" height="96" rx="13" fill="#ede9fc"/>
<path d="M365,1065 L366,1046 Q368,1038 376,1037 L390,1037 Q396,1040 397,1048 L398,1065Z" fill="#111"/>
<ellipse cx="384" cy="1025" rx="8" ry="11" fill="#fff" stroke="#111" stroke-width="1"/>
<circle cx="381" cy="1023" r="2" fill="none" stroke="#111" stroke-width=".8"/><circle cx="387.5" cy="1023" r="2" fill="none" stroke="#111" stroke-width=".8"/>
<ellipse cx="384" cy="1030.5" rx="3" ry="2.2" fill="#111"/>
<text class="nm" x="381" y="1075.5" textLength="23" lengthAdjust="spacingAndGlyphs">Beast</text>
<text class="rl" x="381" y="1085.5" fill="#c15fe0" textLength="39.5" lengthAdjust="spacingAndGlyphs">POLICEMAN</text>
<text class="hl" x="422.5" y="1010.5" fill="#3a9cf0" textLength="16" lengthAdjust="spacingAndGlyphs">HE HAS</text>
<text class="hl" x="422.5" y="1059" fill="#3a9cf0" textLength="39" lengthAdjust="spacingAndGlyphs">HE NEEDS TO WIN</text>
<use href="#H" x="427.7" y="1018.5"/><use href="#H" x="439.5" y="1018.5"/><use href="#H" x="451.3" y="1018.5"/><use href="#H" x="463.1" y="1018.5"/><use href="#H" x="474.9" y="1018.5"/>
<use href="#B" x="427.7" y="1042.6"/><use href="#B" x="439.5" y="1042.6"/>
<use href="#H" x="427.7" y="1068.7"/>
<use href="#M" x="427.7" y="1081.5"/><use href="#M" x="439.5" y="1081.5"/><use href="#M" x="451.3" y="1081.5"/><use href="#M" x="463.1" y="1081.5"/><use href="#M" x="474.9" y="1081.5"/>
<use href="#B" x="427.7" y="1093"/><use href="#B" x="439.5" y="1093"/><use href="#B" x="451.3" y="1093"/><use href="#B" x="463.1" y="1093"/>

<!-- Wanjiku -->
<rect x="535.5" y="995" width="160" height="113" rx="22" fill="#e6e6e6"/>
<rect x="544" y="1004" width="63" height="96" rx="13" fill="#f7e9f7"/>
<path d="M556,1044 L562,1050 L566,1041 L584,1041 L588,1050 L595,1043 L590,1055 L586,1052 L586,1068 L565,1068 L565,1052 L560,1055Z" fill="#fff" stroke="#111" stroke-width=".8"/>
<path d="M566,1042 L584,1042 L585,1068 L566,1068Z" fill="#111"/>
<ellipse cx="575" cy="1022" rx="11" ry="13" fill="#111"/>
<ellipse cx="576" cy="1029" rx="5" ry="6.5" fill="#fff" stroke="#111" stroke-width=".6"/>
<text class="nm" x="575.5" y="1078" textLength="33.7" lengthAdjust="spacingAndGlyphs">Wanjiku</text>
<text class="rl" x="575.5" y="1089" fill="#7a3fe0" textLength="21.5" lengthAdjust="spacingAndGlyphs">LOCAL</text>
<text class="hl" x="618" y="1010.5" fill="#7a3fe0" textLength="16" lengthAdjust="spacingAndGlyphs">HE HAS</text>
<text class="hl" x="618" y="1059" fill="#7a3fe0" textLength="39" lengthAdjust="spacingAndGlyphs">HE NEEDS TO WIN</text>
<use href="#H" x="623" y="1018.5"/><use href="#H" x="634.8" y="1018.5"/><use href="#H" x="646.6" y="1018.5"/>
<use href="#M" x="623" y="1031"/><use href="#M" x="634.8" y="1031"/><use href="#M" x="646.6" y="1031"/>
<use href="#B" x="623" y="1042.6"/><use href="#B" x="634.8" y="1042.6"/>
<use href="#H" x="623" y="1068.7"/>
<use href="#M" x="623" y="1081.5"/><use href="#M" x="634.8" y="1081.5"/><use href="#M" x="646.6" y="1081.5"/><use href="#M" x="658.4" y="1081.5"/>
<use href="#B" x="623" y="1093"/><use href="#B" x="634.8" y="1093"/><use href="#B" x="646.6" y="1093"/><use href="#B" x="658.4" y="1093"/><use href="#B" x="670.2" y="1093"/>

<!-- MLA CHAKE -->
<rect x="733" y="995" width="160" height="113" rx="22" fill="#e6e6e6"/>
<rect x="742" y="1004" width="63" height="96" rx="13" fill="#e7e3fb"/>
<path d="M761,1068 L762,1048 Q765,1040 772,1039 L782,1039 Q789,1041 791,1049 L792,1068Z" fill="#fff" stroke="#111" stroke-width=".8"/>
<rect x="771" y="1048" width="6" height="7" fill="#fff" stroke="#111" stroke-width=".6"/>
<ellipse cx="777" cy="1027" rx="9" ry="11" fill="#fff" stroke="#111" stroke-width="1"/>
<path d="M771,1031 Q777,1027 783,1031 Q777,1034 771,1031Z" fill="#111"/>
<circle cx="774" cy="1025" r="1.8" fill="none" stroke="#111" stroke-width=".7"/><circle cx="780" cy="1025" r="1.8" fill="none" stroke="#111" stroke-width=".7"/>
<text class="nm" x="774" y="1078" textLength="47.3" lengthAdjust="spacingAndGlyphs">MLA CHAKE</text>
<text class="rl" x="774" y="1086.8" fill="#6a3ad8" textLength="38" lengthAdjust="spacingAndGlyphs">POLITICIAN</text>
<text class="hl" x="815.6" y="1010.5" fill="#7a3fe0" textLength="16" lengthAdjust="spacingAndGlyphs">HE HAS</text>
<text class="hl" x="815.6" y="1059" fill="#7a3fe0" textLength="39" lengthAdjust="spacingAndGlyphs">HE NEEDS TO WIN</text>
<use href="#H" x="820.5" y="1018.5"/><use href="#H" x="832.3" y="1018.5"/><use href="#H" x="844.1" y="1018.5"/>
<use href="#M" x="820.5" y="1031"/><use href="#M" x="832.3" y="1031"/><use href="#M" x="844.1" y="1031"/><use href="#M" x="855.9" y="1031"/><use href="#M" x="867.7" y="1031"/>
<use href="#B" x="820.5" y="1042.6"/><use href="#B" x="832.3" y="1042.6"/>
<use href="#H" x="820.5" y="1068.7"/>
<use href="#M" x="820.5" y="1081.5"/><use href="#M" x="832.3" y="1081.5"/><use href="#M" x="844.1" y="1081.5"/><use href="#M" x="855.9" y="1081.5"/><use href="#M" x="867.7" y="1081.5"/>
<use href="#B" x="820.5" y="1093"/><use href="#B" x="832.3" y="1093"/><use href="#B" x="844.1" y="1093"/><use href="#B" x="855.9" y="1093"/>

<!-- Bab-G -->
<rect x="930" y="995" width="160" height="129" rx="22" fill="#e6e6e6"/>
<rect x="941" y="1005" width="64" height="96" rx="13" fill="#e8f1fd"/>
<path d="M957,1064 L958,1046 Q960,1038 967,1037 L977,1037 Q984,1039 986,1047 L987,1064Z" fill="#111"/>
<path d="M958,1050 V1062 M986,1050 V1062" stroke="#fff" stroke-width=".8"/>
<ellipse cx="972" cy="1025" rx="7" ry="9" fill="#fff" stroke="#111" stroke-width="1"/>
<path d="M965,1022 Q965,1015 972,1015 Q979,1015 979,1021 Q972,1019 965,1022Z" fill="#111"/>
<text class="nm" x="972.5" y="1075.5" textLength="23.4" lengthAdjust="spacingAndGlyphs">Bab-G</text>
<text class="rl" x="972.5" y="1085.5" fill="#2a9af0" textLength="21.5" lengthAdjust="spacingAndGlyphs">LOCAL</text>
<text class="hl" x="1013" y="1010.5" fill="#3a9cf0" textLength="16" lengthAdjust="spacingAndGlyphs">HE HAS</text>
<text class="hl" x="1013" y="1067.8" fill="#3a9cf0" textLength="39" lengthAdjust="spacingAndGlyphs">HE NEEDS TO WIN</text>
<use href="#H" x="1017" y="1018.5"/><use href="#H" x="1029" y="1018.5"/><use href="#H" x="1041" y="1018.5"/><use href="#H" x="1053" y="1018.5"/>
<use href="#M" x="1017" y="1031"/><use href="#M" x="1029" y="1031"/>
<use href="#B" x="1017" y="1042.6"/><use href="#B" x="1029" y="1042.6"/>
<use href="#X" x="1017" y="1054"/><use href="#X" x="1029" y="1054"/><use href="#X" x="1041" y="1054"/><use href="#X" x="1053" y="1054"/>
<use href="#H" x="1017" y="1077.6"/>
<use href="#M" x="1017" y="1090.4"/><use href="#M" x="1029" y="1090.4"/><use href="#M" x="1041" y="1090.4"/><use href="#M" x="1053" y="1090.4"/><use href="#M" x="1065" y="1090.4"/>
<use href="#B" x="1017" y="1101"/><use href="#B" x="1029" y="1101"/><use href="#B" x="1041" y="1101"/><use href="#B" x="1053" y="1101"/>
<use href="#X" x="1017" y="1113.8"/>

<!-- ===== BOTTOM PORTRAITS ===== -->
<g>
<ellipse cx="405" cy="1163" rx="14" ry="13.5" fill="#a39585"/>
<path d="M388,1154 Q391,1140 407,1141 Q423,1142 422,1153 Q410,1157 388,1154Z" fill="#3a7acb"/>
<circle cx="404" cy="1147" r="2.6" fill="#d8b83a"/>
<g transform="rotate(-20 390 1172)"><rect x="371" y="1165" width="31" height="11" fill="#fff" stroke="#333" stroke-width=".6"/><text x="374" y="1172.5" font-size="5.5" fill="#333">Policeman</text></g>
</g>
<g>
<ellipse cx="597" cy="1150" rx="31" ry="28" fill="#5d4a3a"/>
<ellipse cx="593" cy="1162" rx="17" ry="21" fill="#6f5a48"/>
<g transform="rotate(-25 575 1180)"><rect x="554" y="1172" width="40" height="15" fill="#fff" stroke="#444" stroke-width=".6"/><text x="557" y="1179" font-size="5" fill="#333">Local</text><text x="562" y="1185.5" font-size="5" fill="#333">Female</text></g>
</g>
<g>
<ellipse cx="990" cy="1151" rx="21" ry="16" fill="#2c231e"/>
<ellipse cx="987" cy="1163" rx="14" ry="17" fill="#6f5442"/>
<rect x="990" y="1174" width="20.5" height="10" fill="#d9a33a" stroke="#555" stroke-width=".4"/>
<text x="992" y="1181.5" font-size="5" fill="#333">Bab-G</text>
</g>
</svg>
</body></html>
